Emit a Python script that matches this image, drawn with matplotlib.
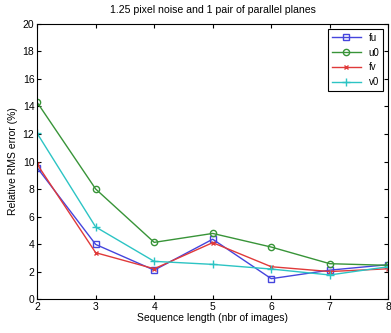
import matplotlib
matplotlib.use("Agg")
import matplotlib.pyplot as plt

plt.rcParams['font.family'] = ['Liberation Sans', 'DejaVu Sans']

seq_len = [2, 3, 4, 5, 6, 7, 8]
fu = [9.55, 3.97, 2.1, 4.35, 1.48, 2.1, 2.5]
u0 = [14.3, 8.0, 4.12, 4.77, 3.78, 2.57, 2.45]
fv = [9.8, 3.37, 2.2, 4.1, 2.35, 2.0, 2.2]
v0 = [12.05, 5.24, 2.74, 2.52, 2.18, 1.75, 2.35]

fig = plt.figure(figsize=(3.91, 3.33), dpi=100)
ax = fig.add_axes([0.095, 0.102, 0.898, 0.826])

lw = 1.0
ax.plot(seq_len, fu, color='#4545dd', marker='s', mfc='none', ms=4.5, lw=lw, label='fu')
ax.plot(seq_len, u0, color='#389438', marker='o', mfc='none', ms=4.5, lw=lw, label='u0')
ax.plot(seq_len, fv, color='#e03a3a', marker='x', ms=3, lw=lw, label='fv')
ax.plot(seq_len, v0, color='#2cc4c4', marker='+', ms=6, lw=lw, label='v0')

ax.set_xlim(2, 8)
ax.set_ylim(0, 20)
ax.set_xticks(seq_len)
ax.set_yticks(range(0, 21, 2))
ax.tick_params(direction='in', top=True, right=True, labelsize=7.5, length=3, pad=2)
ax.set_title('1.25 pixel noise and 1 pair of parallel planes', fontsize=7.6, pad=8)
ax.set_xlabel('Sequence length (nbr of images)', fontsize=7.5, labelpad=1)
ax.set_ylabel('Relative RMS error (%)', fontsize=7.5, labelpad=3)

leg = ax.legend(loc='upper right', fontsize=7, frameon=True, fancybox=False,
                edgecolor='black', framealpha=1, handlelength=3, borderaxespad=0.5,
                labelspacing=0.5)
leg.get_frame().set_linewidth(0.8)

fig.savefig('out.png', dpi=100)
